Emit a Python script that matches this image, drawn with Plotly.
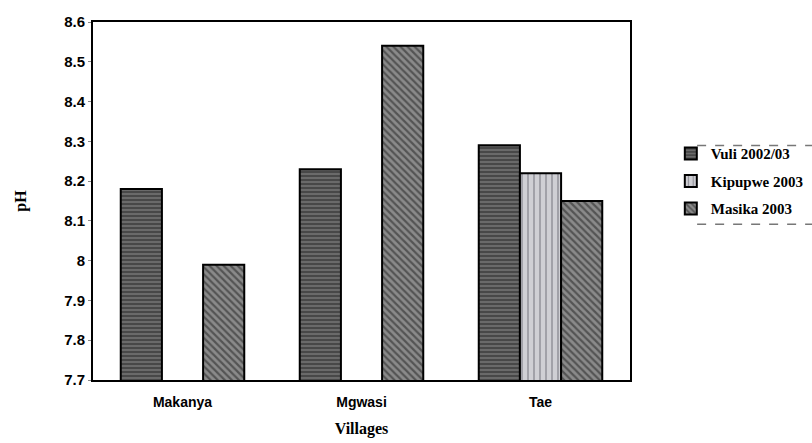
import plotly.graph_objects as go

villages = ["Makanya", "Mgwasi", "Tae"]
vuli = [8.18, 8.23, 8.29]
kipupwe = [None, None, 8.22]
masika = [7.99, 8.54, 8.15]
series_names = ["Vuli 2002/03", "Kipupwe 2003", "Masika 2003"]
y_ticks = [7.7, 7.8, 7.9, 8.0, 8.1, 8.2, 8.3, 8.4, 8.5, 8.6]
y_tick_text = ["7.7", "7.8", "7.9", "8", "8.1", "8.2", "8.3", "8.4", "8.5", "8.6"]

# hatch fills for the three seasons
styles = [
    dict(shape="-", bgcolor="#6a6a6a", fgcolor="#1e1e1e", size=4, solidity=0.45),
    dict(shape="|", bgcolor="#cfcfd4", fgcolor="#555560", size=6, solidity=0.25),
    dict(shape="\\", bgcolor="#8a8a8a", fgcolor="#1e1e1e", size=5, solidity=0.45),
]

fig = go.Figure()
for name, vals, st in zip(series_names, [vuli, kipupwe, masika], styles):
    fig.add_trace(go.Bar(
        x=villages, y=vals, name=name, legendgroup=name,
        marker=dict(color=st["bgcolor"], pattern=st, line=dict(color="black", width=2)),
    ))

fig.update_layout(
    width=812, height=443,
    margin=dict(l=93, r=182, t=22, b=63, autoexpand=False),
    paper_bgcolor="white", plot_bgcolor="white",
    barmode="group", bargap=0.31, bargroupgap=0,
    showlegend=True,
    legend=dict(
        x=1.076, y=0.678, xanchor="left", yanchor="top",
        font=dict(family="Liberation Serif", size=15, color="black", weight="bold"),
        bgcolor="rgba(0,0,0,0)", borderwidth=0,
        itemwidth=30, tracegroupgap=5,
    ),
    font=dict(family="Liberation Sans", color="black"),
    xaxis=dict(
        showline=True, linecolor="black", linewidth=2, mirror=True,
        ticks="", ticklabelstandoff=8,
        tickfont=dict(family="Liberation Sans", size=14, weight="bold"),
        title=dict(text="<b>Villages</b>", font=dict(family="Liberation Serif", size=16), standoff=14),
    ),
    yaxis=dict(
        range=[7.7, 8.6], tickvals=y_ticks, ticktext=y_tick_text,
        showline=True, linecolor="black", linewidth=2, mirror=True,
        showgrid=False, zeroline=False,
        ticks="outside", ticklen=3, tickcolor="#888",
        tickfont=dict(family="Liberation Sans", size=15, weight="bold"),
        title=dict(text="<b>pH</b>", font=dict(family="Liberation Serif", size=16), standoff=34),
    ),
    shapes=[
        dict(type="line", xref="paper", yref="paper", x0=1.125, x1=1.34, y0=0.655, y1=0.655,
             line=dict(color="#777", width=1.5, dash="dash")),
        dict(type="line", xref="paper", yref="paper", x0=1.125, x1=1.34, y0=0.435, y1=0.435,
             line=dict(color="#777", width=1.5, dash="dash")),
    ],
)

fig.write_html("out.html")
